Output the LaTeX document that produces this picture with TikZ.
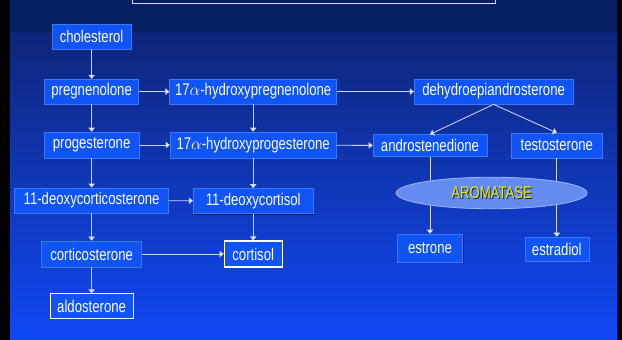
\documentclass[tikz,border=0pt]{standalone}
\usepackage{fontspec}
\usepackage{tikz}
\usetikzlibrary{arrows.meta,shapes.geometric,shadows}

\newfontfamily\narrowsans[FakeStretch=0.78]{Liberation Sans}

\definecolor{bgband}{RGB}{6,30,98}
\definecolor{bggrad}{RGB}{14,38,122}
\definecolor{bgbot}{RGB}{17,72,245}
\definecolor{boxfill}{RGB}{16,84,245}
\definecolor{boxedge}{RGB}{60,120,255}
\definecolor{wire}{RGB}{205,215,255}
\definecolor{ellfill}{RGB}{100,140,238}
\definecolor{elledge}{RGB}{150,180,255}
\definecolor{aromtext}{RGB}{235,235,20}
\definecolor{aromshadow}{RGB}{25,30,60}
\definecolor{boxshadow}{RGB}{10,30,90}

\newcommand\embossed[1]{\rlap{\kern0.7pt\raisebox{-0.7pt}{\textcolor{aromshadow}{#1}}}#1}

\tikzset{
    hormone/.style={draw=boxedge, fill=boxfill, text=white, inner sep=0pt, minimum height=0.625cm,
        font=\narrowsans\fontsize{12}{14}\selectfont},
    hormoneend/.style={hormone, draw=white, line width=0.8pt},
    raised/.style={drop shadow={shadow xshift=0.03cm, shadow yshift=-0.03cm, fill=boxshadow, opacity=1}},
    flow/.style={draw=wire, line width=0.6pt, -{Triangle[width=0.16cm, length=0.1cm, fill=white]}},
}

\begin{document}
\begin{tikzpicture}

    \useasboundingbox (0,0) rectangle (15.55,-8.5);
    \clip (0,0) rectangle (15.55,-8.5);

    \fill [black] (0,0) rectangle (15.55,-8.5);
    \fill [bgband] (0.25,0) rectangle (15.425,-0.825);
    \shade [top color=bggrad, bottom color=bgbot] (0.25,-0.825) rectangle (15.425,-8.5);
    \draw [draw=white!85!blue, line width=0.6pt] (3.3,0.2) rectangle (12.375,-0.075);

    \node [hormone, minimum width=1.975cm] (chol) at (2.29,-0.91) {cholesterol};
    \node [hormone, minimum width=2.35cm] (preg) at (2.29,-2.29) {pregnenolone};
    \node [hormone, minimum width=4.175cm] (ohpreg) at (6.33,-2.29) {17$\alpha$-hydroxypregnenolone};
    \node [hormone, minimum width=3.975cm] (dhea) at (12.34,-2.29) {dehydroepiandrosterone};

    \node [hormone, minimum width=2.375cm, minimum height=0.65cm] (prog) at (2.29,-3.625) {progesterone};
    \node [hormone, minimum width=4.15cm, minimum height=0.65cm] (ohprog) at (6.33,-3.625) {17$\alpha$-hydroxyprogesterone};
    \node [hormone, minimum width=2.85cm, minimum height=0.55cm] (andro) at (10.75,-3.64) {androstenedione};
    \node [hormone, minimum width=2.275cm] (testo) at (13.92,-3.64) {testosterone};

    \node [hormone, minimum width=3.85cm] (doc) at (2.29,-5.01) {11-deoxycorticosterone};
    \node [hormone, raised, minimum width=3.0cm] (dcort) at (6.33,-5.025) {11-deoxycortisol};

    \node [hormone, draw={rgb:blue,2;green,1;white,1}, minimum width=2.5cm, minimum height=0.65cm] (cortico) at (2.29,-6.35) {corticosterone};
    \node [hormoneend, minimum width=1.45cm, minimum height=0.65cm] (cortisol) at (6.33,-6.35) {cortisol};
    \node [hormone, raised, minimum width=1.625cm, minimum height=0.7cm] (estrone) at (10.75,-6.2) {estrone};
    \node [hormone, raised, minimum width=1.6cm, minimum height=0.6cm] (estradiol) at (13.92,-6.225) {estradiol};

    \node [hormoneend, minimum width=2.075cm] (aldo) at (2.29,-7.66) {aldosterone};

    \draw [flow] (chol) -- (preg);
    \draw [flow] (preg) -- (ohpreg);
    \draw [flow] (ohpreg) -- (dhea);

    \draw [flow] (preg) -- (prog);
    \draw [flow] (ohpreg) -- (ohprog);
    \draw [flow] (prog) -- (ohprog);
    \draw [flow] (ohprog) -- (andro);
    \draw [flow] (dhea.south) -- (andro.north);
    \draw [flow] (dhea.south) -- (testo.north);

    \draw [flow] (prog) -- (doc);
    \draw [flow] (ohprog) -- (dcort);
    \draw [flow] (doc) -- (dcort);

    \draw [flow] (doc) -- (cortico);
    \draw [flow] (dcort) -- (cortisol);
    \draw [flow] (cortico) -- (cortisol);
    \draw [flow] (cortico) -- (aldo);

    \draw [flow] (andro) -- (estrone);
    \draw [flow] (testo) -- (estradiol);

    \node [ellipse, draw=elledge, fill=ellfill, line width=0.6pt, minimum width=4.775cm, minimum height=0.75cm,
        text=aromtext, font=\narrowsans\fontsize{12}{14}\selectfont] (arom) at (12.29,-4.825) {\embossed{AROMATASE}};

\end{tikzpicture}
\end{document}
